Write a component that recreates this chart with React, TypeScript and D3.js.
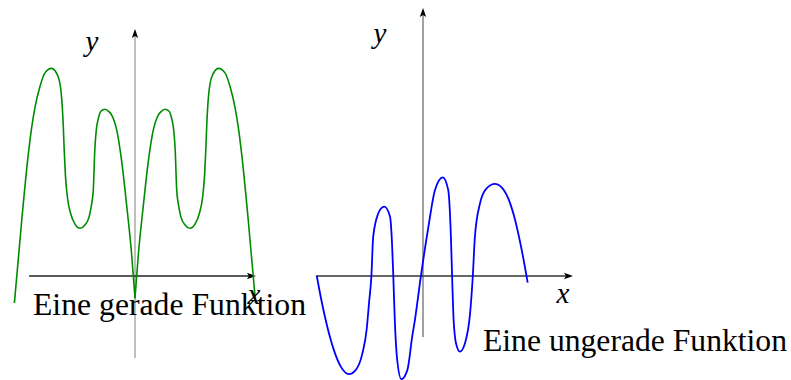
import React from "react";
import * as d3 from "d3";

// Even function (green) sampled points, x and y in plot units
const evenX = [
  -4.02, -3.78, -3.56, -3.44, -3.33, -3.17, -3.0, -2.78, -2.56, -2.44, -2.39, -2.36, -2.32, -2.25, -2.15, -2.0,
  -1.83, -1.67, -1.53, -1.45, -1.39, -1.34, -1.29, -1.22, -1.13, -1.0, -0.87, -0.78, -0.59, -0.45, -0.28, -0.11, 0,
  0.11, 0.28, 0.45, 0.59, 0.78, 0.87, 1.0, 1.13, 1.22, 1.29, 1.34, 1.39, 1.45, 1.53, 1.67, 1.83, 2.0, 2.15, 2.25,
  2.32, 2.36, 2.39, 2.44, 2.56, 2.78, 3.0, 3.17, 3.33, 3.44, 3.56, 3.78, 4.02,
];
const evenY = [
  -0.9, 1.81, 4.03, 4.98, 5.64, 6.31, 6.77, 6.92, 6.64, 5.87, 4.98, 4.2, 3.37, 2.6, 2.1, 1.73,
  1.59, 1.7, 1.97, 2.37, 2.87, 4.2, 4.87, 5.26, 5.5, 5.56, 5.48, 5.37, 4.77, 3.87, 2.37, 0.7, -0.74,
  0.7, 2.37, 3.87, 4.77, 5.37, 5.48, 5.56, 5.5, 5.26, 4.87, 4.2, 2.87, 2.37, 1.97, 1.7, 1.59, 1.73, 2.1, 2.6,
  3.37, 4.2, 4.98, 5.87, 6.64, 6.92, 6.77, 6.31, 5.64, 4.98, 4.03, 1.81, -0.9,
];

// Odd function (blue) sampled points
const oddX = [
  -3.54, -3.41, -3.19, -2.97, -2.74, -2.47, -2.24, -2.02, -1.88, -1.8, -1.72, -1.66, -1.49, -1.4, -1.29, -1.1,
  -1.03, -0.99, -0.94, -0.86, -0.72, -0.52, -0.36, -0.27, -0.07, 0.18, 0.4, 0.66, 0.84, 0.93, 0.97, 1.01, 1.1,
  1.23, 1.4, 1.57, 1.66, 1.73, 1.9, 2.12, 2.4, 2.73, 3.07, 3.29, 3.49,
];
const oddY = [
  0, -0.69, -1.69, -2.47, -3.02, -3.27, -3.13, -2.58, -1.8, -0.91, 0, 1.31, 2.09, 2.25, 2.31, 1.98,
  1.03, 0, -1.47, -2.8, -3.44, -3.13, -2.02, -1.47, 0, 1.64, 2.87, 3.29, 2.87, 1.31, 0, -1.24, -2.24,
  -2.52, -2.24, -1.24, 0, 1.31, 2.42, 2.92, 3.07, 2.81, 1.87, 0.87, -0.22,
];

// Axis extents in plot units
const leftXAxis = [-3.53, 4.03];
const leftYAxis = [-2.73, 8.23];
const rightXAxis = [-3.57, 5.0];
const rightYAxis = [-2.03, 8.93];

const captions = ["Eine gerade Funktion", "Eine ungerade Funktion"];

const UNIT = 30;

function makeScales(originX: number, originY: number) {
  const x = d3.scaleLinear().domain([0, 1]).range([originX, originX + UNIT]);
  const y = d3.scaleLinear().domain([0, 1]).range([originY, originY - UNIT]);
  return { x, y };
}

function Arrow({ x, y, dir }: { x: number; y: number; dir: "up" | "right" }) {
  const L = 9;
  const W = 3.2;
  const pts =
    dir === "up"
      ? [[x, y], [x - W, y + L], [x, y + L - 2], [x + W, y + L]]
      : [[x, y], [x - L, y - W], [x - L + 2, y], [x - L, y + W]];
  return <polygon points={pts.map((p) => p.join(",")).join(" ")} fill="#000" />;
}

function Panel({
  originX,
  originY,
  xs,
  ys,
  xAxis,
  yAxis,
  color,
  strokeWidth,
  yAxisColor,
  xAxisColor,
  splitAtZero,
}: {
  originX: number;
  originY: number;
  xs: number[];
  ys: number[];
  xAxis: number[];
  yAxis: number[];
  color: string;
  strokeWidth: number;
  yAxisColor: string;
  xAxisColor: string;
  splitAtZero: boolean;
}) {
  const { x, y } = makeScales(originX, originY);
  const pts: [number, number][] = xs.map((v, i) => [v, ys[i]]);
  const line = d3
    .line<[number, number]>()
    .x((d) => x(d[0]))
    .y((d) => y(d[1]))
    .curve(d3.curveMonotoneX);
  // the even curve has a cusp at the origin, so each half is drawn on its own
  const parts = splitAtZero
    ? [pts.filter((p) => p[0] <= 0), pts.filter((p) => p[0] >= 0)]
    : [pts];
  return (
    <g>
      <line x1={x(0)} x2={x(0)} y1={y(yAxis[0])} y2={y(yAxis[1]) + 6} stroke={yAxisColor} strokeWidth={1.1} />
      <Arrow x={x(0)} y={y(yAxis[1])} dir="up" />
      <line x1={x(xAxis[0])} x2={x(xAxis[1]) - 6} y1={y(0)} y2={y(0)} stroke={xAxisColor} strokeWidth={1.3} />
      <Arrow x={x(xAxis[1])} y={y(0)} dir="right" />
      {parts.map((p, i) => (
        <path key={i} d={line(p) || ""} fill="none" stroke={color} strokeWidth={strokeWidth} strokeLinejoin="round" />
      ))}
    </g>
  );
}

export default function App() {
  const serif = "'Liberation Serif', 'Times New Roman', serif";
  return (
    <svg
      width={791}
      height={380}
      style={{ position: "absolute", left: 0, top: 0, background: "#fff" }}
      fontFamily={serif}
    >
      <Panel
        originX={135}
        originY={276}
        xs={evenX}
        ys={evenY}
        xAxis={leftXAxis}
        yAxis={leftYAxis}
        color="#008c00"
        strokeWidth={1.6}
        yAxisColor="#8a8a8a"
        xAxisColor="#222"
        splitAtZero={true}
      />
      <Panel
        originX={423}
        originY={276}
        xs={oddX}
        ys={oddY}
        xAxis={rightXAxis}
        yAxis={rightYAxis}
        color="#0000ff"
        strokeWidth={1.8}
        yAxisColor="#555"
        xAxisColor="#333"
        splitAtZero={false}
      />
      <text x={92} y={51} fontSize={29} fontStyle="italic" textAnchor="middle">y</text>
      <text x={254} y={304} fontSize={29} fontStyle="italic" textAnchor="middle">x</text>
      <text x={380} y={43} fontSize={29} fontStyle="italic" textAnchor="middle">y</text>
      <text x={563} y={303} fontSize={29} fontStyle="italic" textAnchor="middle">x</text>
      <text x={33} y={315} fontSize={31} textLength={273} lengthAdjust="spacingAndGlyphs">{captions[0]}</text>
      <text x={483} y={351} fontSize={31} textLength={304} lengthAdjust="spacingAndGlyphs">{captions[1]}</text>
    </svg>
  );
}
